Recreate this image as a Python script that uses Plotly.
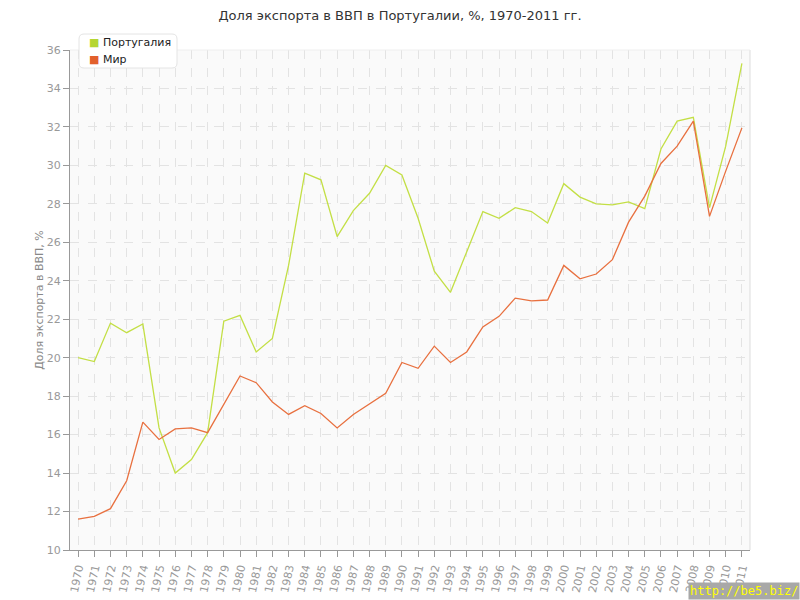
import plotly.graph_objects as go

years = list(range(1970, 2012))
portugal = [20.0, 19.8, 21.8, 21.3, 21.75, 16.35, 14.0, 14.7, 16.1, 21.9,
            22.2, 20.3, 21.0, 24.8, 29.6, 29.25, 26.3, 27.65, 28.55, 30.0,
            29.5, 27.25, 24.5, 23.4, 25.5, 27.6, 27.25, 27.8, 27.6, 27.0,
            29.05, 28.35, 28.0, 27.95, 28.1, 27.75, 30.85, 32.3, 32.5, 27.8,
            31.0, 35.3]
world = [11.6, 11.75, 12.15, 13.6, 16.65, 15.75, 16.3, 16.35, 16.1, 17.6,
         19.05, 18.7, 17.7, 17.05, 17.5, 17.1, 16.35, 17.05, 17.6, 18.15,
         19.75, 19.45, 20.6, 19.75, 20.3, 21.6, 22.15, 23.1, 22.95, 23.0,
         24.8, 24.1, 24.35, 25.1, 27.05, 28.4, 30.1, 31.0, 32.3, 27.35,
         29.7, 31.95]
names = ["Португалия", "Мир"]
title = "Доля экспорта в ВВП в Португалии, %, 1970-2011 гг."
ytitle = "Доля экспорта в ВВП, %"
yticks = list(range(10, 37, 2))

green = "#c3df45"
red = "#e8703f"
green_leg = "#b5d633"
red_leg = "#e2602c"

L, R, T, B = 70, 50, 50, 50
PW, PH = 800 - L - R, 600 - T - B


def px(xp):
    return (xp - L) / PW


def py(yp):
    return (600 - B - yp) / PH


fig = go.Figure()
fig.add_trace(go.Scatter(x=years, y=portugal, mode="lines", name=names[0],
                         line=dict(color=green, width=1.3), showlegend=False))
fig.add_trace(go.Scatter(x=years, y=world, mode="lines", name=names[1],
                         line=dict(color=red, width=1.3), showlegend=False))

font = "DejaVu Sans, Verdana, sans-serif"

# legend box (rounded rectangle) drawn manually
x0, x1, y0, y1, rr = 79, 177, 34, 68, 5
path = (f"M{px(x0 + rr)},{py(y0)} L{px(x1 - rr)},{py(y0)} "
        f"Q{px(x1)},{py(y0)} {px(x1)},{py(y0 + rr)} L{px(x1)},{py(y1 - rr)} "
        f"Q{px(x1)},{py(y1)} {px(x1 - rr)},{py(y1)} L{px(x0 + rr)},{py(y1)} "
        f"Q{px(x0)},{py(y1)} {px(x0)},{py(y1 - rr)} L{px(x0)},{py(y0 + rr)} "
        f"Q{px(x0)},{py(y0)} {px(x0 + rr)},{py(y0)} Z")
shapes = [
    dict(type="line", xref="paper", yref="paper", x0=1, x1=1, y0=0, y1=1,
         line=dict(color="#dddddd", width=1)),
    dict(type="line", xref="paper", yref="paper", x0=0, x1=1, y0=1, y1=1,
         line=dict(color="#eeeeee", width=1)),
    dict(type="path", xref="paper", yref="paper", path=path,
         fillcolor="white", line=dict(color="#e4e4e4", width=1), layer="above"),
]
annotations = []
for i, (nm, c) in enumerate(zip(names, [green_leg, red_leg])):
    annotations.append(dict(
        text=f"<span style='color:{c}'>■</span> {nm}", xref="paper", yref="paper",
        x=px(87), y=py(43 + 16 * i), xanchor="left", yanchor="middle",
        showarrow=False, font=dict(size=11, color="#222222", family=font)))
annotations.append(dict(text="http://be5.biz/", xref="paper", yref="paper",
                        x=px(800), y=py(600), xanchor="right", yanchor="bottom",
                        showarrow=False, bgcolor="#a8a8a8", borderpad=1,
                        font=dict(size=12, color="#ffff00",
                                  family="DejaVu Sans Mono, monospace")))

fig.update_layout(
    width=800, height=600,
    margin=dict(l=L, r=R, t=T, b=B),
    paper_bgcolor="white",
    plot_bgcolor="#fafafa",
    showlegend=False,
    font=dict(family=font, color="#888888", size=11),
    title=dict(text=title, x=0.5, xanchor="center", y=1 - 11 / 600, yanchor="top",
               font=dict(size=13, color="#333333", family=font)),
    xaxis=dict(range=[1969.5, 2011.5], tickmode="array", tickvals=years,
               ticktext=[str(y) for y in years], tickangle=-78, automargin=False,
               showgrid=True, gridcolor="#e3e3e3", griddash="dash", gridwidth=1,
               showline=True, linecolor="#999999", linewidth=1,
               ticks="outside", ticklen=6, tickcolor="#999999",
               mirror=False, zeroline=False,
               tickfont=dict(size=11, color="#999999")),
    yaxis=dict(range=[10, 36], tickmode="array", tickvals=yticks, automargin=False,
               showgrid=True, gridcolor="#e3e3e3", griddash="dash", gridwidth=1,
               showline=True, linecolor="#999999", linewidth=1,
               ticks="outside", ticklen=6, tickcolor="#999999",
               zeroline=False, title=dict(text=ytitle, standoff=0,
                                          font=dict(size=11, color="#888888")),
               tickfont=dict(size=11, color="#999999")),
    shapes=shapes,
    annotations=annotations,
)
fig.write_html("out.html", config={"displayModeBar": False},
               post_script="document.body.style.margin='0';document.body.style.padding='0';")
